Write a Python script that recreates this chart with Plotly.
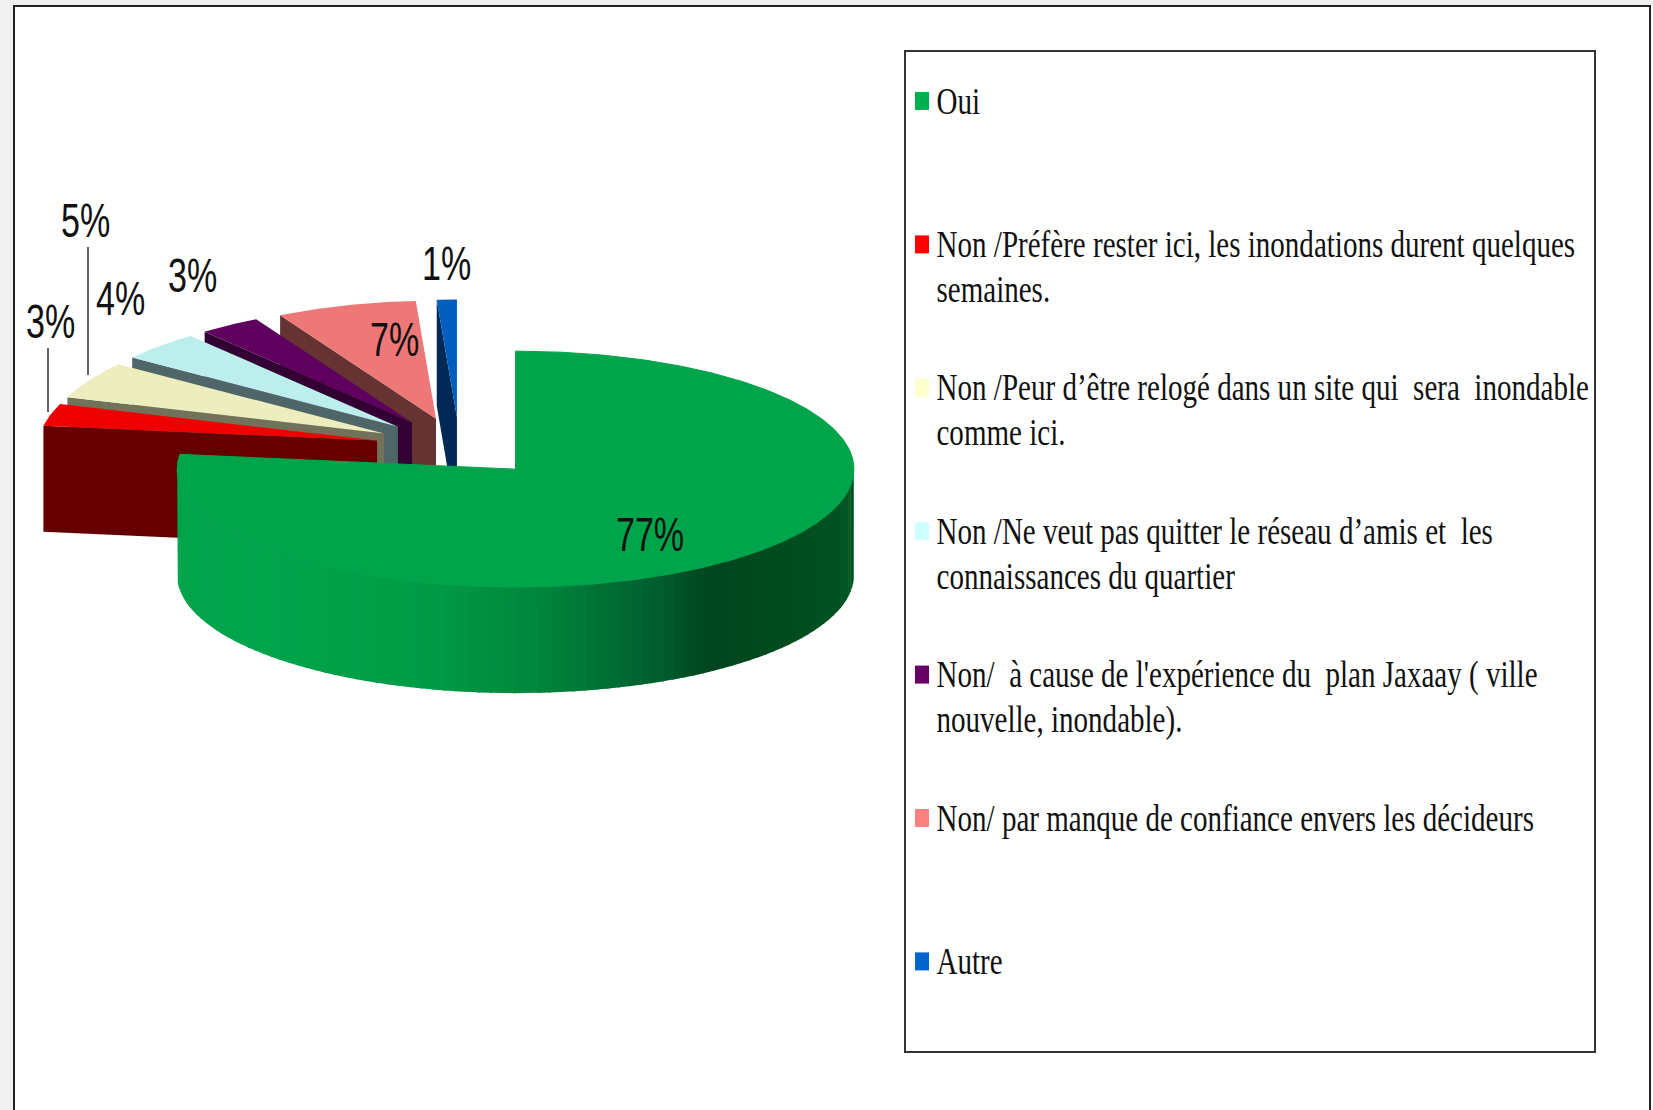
import math
import plotly.graph_objects as go

# ---------- data ----------
categories = [
    "Oui",
    "Non /Préfère rester ici, les inondations durent quelques<br>semaines.",
    "Non /Peur d’être relogé dans un site qui  sera  inondable<br>comme ici.",
    "Non /Ne veut pas quitter le réseau d’amis et  les<br>connaissances du quartier",
    "Non/  à cause de l'expérience du  plan Jaxaay ( ville<br>nouvelle, inondable).",
    "Non/ par manque de confiance envers les décideurs",
    "Autre",
]
values = [77, 3, 5, 4, 3, 7, 1]

# ---------- styles ----------
legend_colors = ["#00B050", "#FF0000", "#FFFFCC", "#CCFFFF", "#660066", "#FF8080", "#0066CC"]
top_colors = ["#00A44B", "#EE0000", "#EDEDBE", "#BDEEEE", "#5F005F", "#EE7777", "#005FBE"]
wall_colors = ["#00A44B", "#660000", "#72725B", "#4F6669", "#330033", "#663333", "#002A55"]
# label centre in page pixels, per slice
label_xy = [(650, 534), (50, 321), (85, 220), (120, 298), (192, 275), (394, 339), (446, 263)]
wall_stops = [(0.0, "#00A44B"), (0.14, "#00A44B"), (0.38, "#009A45"), (0.55, "#00823B"),
              (0.70, "#006030"), (0.79, "#00441D"), (1.0, "#005422")]

W, H = 1653, 1110
CX, CY = 459.6, 447.0      # undisplaced pie centre
RX, RY = 338.4, 118.0      # top ellipse radii
DEPTH = 106.0
EXPLODE = 0.25
BACK_SQUEEZE = 0.05        # slight perspective narrowing on the far side of the pie

traces = []


def poly(xs, ys, color, edge=0):
    traces.append(go.Scatter(x=xs, y=ys, mode="lines", fill="toself", fillcolor=color,
                             line=dict(width=edge, color=color), hoverinfo="skip", showlegend=False))


def pt(center, ang, r=1.0, squeeze=0.0):
    a = math.radians(ang)
    k = 1 - squeeze * max(math.cos(a), 0)
    return center[0] + k * r * RX * math.sin(a), center[1] - r * RY * math.cos(a)


def hex2rgb(h):
    return tuple(int(h[i:i + 2], 16) for i in (1, 3, 5))


def grad(f):
    for (f0, c0), (f1, c1) in zip(wall_stops, wall_stops[1:]):
        if f <= f1:
            t = (f - f0) / (f1 - f0) if f1 > f0 else 0
            a, b = hex2rgb(c0), hex2rgb(c1)
            return "rgb(%d,%d,%d)" % tuple(round(a[i] + (b[i] - a[i]) * t) for i in range(3))
    return wall_stops[-1][1]


# slice angle ranges, clockwise from 12 o'clock
total = sum(values)
starts, ends = [], []
acc = 0.0
for v in values:
    starts.append(acc)
    acc += v / total * 360
    ends.append(acc)

centers = [pt((CX, CY), (s + e) / 2, EXPLODE) for s, e in zip(starts, ends)]

# back slices first, front-most last; the big slice goes on top
for i in list(range(len(values) - 1, 0, -1)) + [0]:
    c = centers[i]
    s, e = starts[i], ends[i]
    sq = 0.0 if i == 0 else BACK_SQUEEZE
    if i == 0:
        # outer wall with left-to-right shading; its upper edge runs under the top face
        n = 90
        for k in range(n):
            a0 = 90 + 180 * k / n
            a1 = min(90 + 180 * (k + 1) / n + 0.4, 270)
            x0, y0 = pt(c, a0)
            x1, y1 = pt(c, a1)
            ix0, iy0 = pt(c, a0, 0.97)
            ix1, iy1 = pt(c, a1, 0.97)
            f = ((x0 + x1) / 2 - (c[0] - RX)) / (2 * RX)
            poly([ix0, ix1, x1, x1, x0, x0, ix0],
                 [iy0, iy1, y1, y1 + DEPTH, y0 + DEPTH, y0, iy0], grad(f))
    else:
        # radial wall along the slice's start edge
        ox, oy = pt(c, s, squeeze=sq)
        poly([ox, c[0], c[0], ox, ox], [oy, c[1], c[1] + DEPTH, oy + DEPTH, oy], wall_colors[i])
    steps = max(6, int((e - s) * 2))
    arc = [pt(c, s + (e - s) * k / steps, squeeze=sq) for k in range(steps + 1)]
    poly([c[0]] + [p[0] for p in arc] + [c[0]], [c[1]] + [p[1] for p in arc] + [c[1]], top_colors[i],
         edge=1 if i == 0 else 0)

# ---------- legend ----------
LEG_Y0, LEG_STEP = 101.0, 143.4
SW_X, SW_W, SW_H = 915.0, 14.0, 18.0
annotations = []
for i, (name, col) in enumerate(zip(categories, legend_colors)):
    y = LEG_Y0 + i * LEG_STEP
    poly([SW_X, SW_X + SW_W, SW_X + SW_W, SW_X, SW_X],
         [y - SW_H / 2, y - SW_H / 2, y + SW_H / 2, y + SW_H / 2, y - SW_H / 2], col)
    for j, line in enumerate(name.split("<br>")):
        annotations.append(dict(x=935, y=y + j * 45, text=line, showarrow=False, xanchor="left", yanchor="middle",
                                font=dict(family="Liberation Serif", size=37, color="#111111")))

for v, (x, y) in zip(values, label_xy):
    annotations.append(dict(x=x, y=y, text=f"{v}%", showarrow=False, xanchor="center", yanchor="middle",
                            font=dict(family="Liberation Sans", size=48, color="#111111")))

shapes = [
    dict(type="rect", x0=0, x1=13, y0=0, y1=H, fillcolor="#F0F0F0", line=dict(width=0), layer="below"),
    dict(type="rect", x0=0, x1=1653, y0=0, y1=5, fillcolor="#F0F0F0", line=dict(width=0), layer="below"),
    dict(type="rect", x0=14, x1=1650, y0=6, y1=H + 20, fillcolor="white", line=dict(color="#222222", width=2), layer="below"),
    dict(type="rect", x0=905, x1=1595, y0=51, y1=1052, fillcolor="white", line=dict(color="#333333", width=2), layer="below"),
    dict(type="line", x0=48, x1=48, y0=348, y1=412, line=dict(color="#222222", width=1.4)),
    dict(type="line", x0=88, x1=88, y0=247, y1=375, line=dict(color="#222222", width=1.4)),
]

fig = go.Figure(traces)
fig.update_layout(
    width=W, height=H, margin=dict(l=0, r=0, t=0, b=0, pad=0),
    paper_bgcolor="white", plot_bgcolor="white", showlegend=False,
    annotations=annotations, shapes=shapes,
    xaxis=dict(range=[0, W], visible=False, fixedrange=True),
    yaxis=dict(range=[H, 0], visible=False, fixedrange=True),
)

post = """
document.body.style.margin='0';
document.body.style.overflow='hidden';
document.querySelectorAll('.annotation-text').forEach(function(el){
  var serif=(el.style.fontFamily||'').indexOf('Serif')>=0;
  var bb=el.getBBox();
  var s=serif?0.785:0.71;
  var ox=serif?bb.x-2.5:bb.x+bb.width/2;
  el.setAttribute('transform','translate('+ox+',0) scale('+s+',1) translate('+(-ox)+',0)');
});
"""
fig.write_html("out.html", post_script=post, config=dict(displayModeBar=False))
